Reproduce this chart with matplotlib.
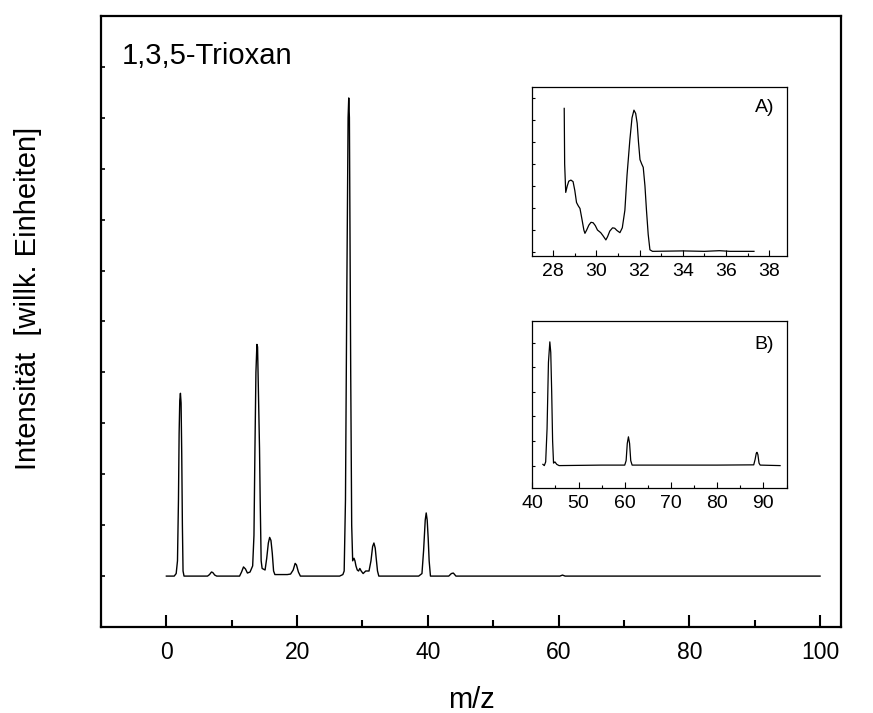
import matplotlib
matplotlib.use("Agg")
import matplotlib.pyplot as plt
from matplotlib.ticker import MultipleLocator, NullFormatter

plt.rcParams['font.family'] = ['Liberation Sans', 'DejaVu Sans']

# ------------------------------------------------------------
# Main spectrum (m/z, intensity in tick units)
# ------------------------------------------------------------
mz_main = [0.0, 1.2, 1.5, 1.7, 1.85, 1.95, 2.05, 2.15, 2.25, 2.35, 2.45, 2.55, 2.7,
           6.3, 6.6, 6.9, 7.1, 7.4, 7.7,
           11.2, 11.5, 11.8, 12.1, 12.4, 12.8, 13.2, 13.4, 13.55, 13.7, 13.85,
           13.95, 14.1, 14.25, 14.35, 14.5, 14.65,
           15.1, 15.35, 15.6, 15.8, 16.0, 16.2, 16.4, 16.6,
           18.5, 19.0, 19.4, 19.7, 19.9, 20.2, 20.5,
           26.5, 27.0, 27.2, 27.4, 27.6, 27.8, 27.9, 28.0, 28.1, 28.2, 28.35,
           28.5, 28.7, 28.85, 29.0, 29.2, 29.4, 29.6, 29.8, 30.1, 30.5, 31.0,
           31.3, 31.55, 31.75, 31.95, 32.1, 32.3, 32.5,
           38.6, 39.1, 39.35, 39.6, 39.75, 39.9, 40.05, 40.2, 40.4,
           43.2, 43.6, 43.9, 44.3, 60.2, 60.6, 61.0, 100.0]
int_main = [0.0, 0.0, 0.05, 0.3, 1.5, 2.8, 3.45, 3.59, 3.4, 2.4, 1.0, 0.1, 0.0,
            0.0, 0.03, 0.08, 0.07, 0.02, 0.0,
            0.0, 0.08, 0.18, 0.14, 0.06, 0.08, 0.2, 0.8, 2.5, 4.0, 4.55,
            4.5, 3.5, 2.5, 1.5, 0.3, 0.15,
            0.12, 0.35, 0.65, 0.76, 0.7, 0.45, 0.1, 0.03,
            0.03, 0.04, 0.12, 0.25, 0.22, 0.08, 0.0,
            0.0, 0.03, 0.1, 1.5, 5.5, 9.0, 9.39, 9.0, 6.5, 4.0, 1.0,
            0.3, 0.35, 0.3, 0.2, 0.12, 0.1, 0.15, 0.1, 0.05, 0.1, 0.1,
            0.3, 0.58, 0.65, 0.55, 0.35, 0.1, 0.0,
            0.0, 0.05, 0.5, 1.1, 1.24, 1.1, 0.75, 0.3, 0.0,
            0.0, 0.05, 0.06, 0.0, 0.0, 0.02, 0.0, 0.0]

# Inset A: zoom on m/z 28-38
mz_a = [28.51, 28.53, 28.58, 28.65, 28.72, 28.82, 28.92, 29.0, 29.08, 29.16,
        29.24, 29.33, 29.42, 29.47, 29.55, 29.65, 29.75, 29.85, 29.95, 30.05,
        30.2, 30.3, 30.44, 30.52, 30.62, 30.75, 30.85, 30.95, 31.09, 31.2,
        31.32, 31.42, 31.55, 31.65, 31.74, 31.82, 31.89, 31.95, 32.02, 32.1,
        32.17, 32.25, 32.32, 32.4, 32.48, 32.6, 34.0, 35.0, 35.7, 36.2, 37.3]
int_a = [6.53, 4.0, 2.71, 3.0, 3.22, 3.27, 3.2, 2.8, 2.25, 2.1,
         1.98, 1.5, 1.0, 0.85, 1.0, 1.22, 1.35, 1.33, 1.2, 1.0,
         0.88, 0.75, 0.55, 0.7, 0.95, 1.1, 1.08, 0.98, 0.88, 1.1,
         1.9, 3.5, 5.09, 6.1, 6.45, 6.3, 5.85, 5.0, 4.2, 4.0,
         3.85, 3.0, 1.9, 0.8, 0.1, 0.03, 0.05, 0.03, 0.06, 0.03, 0.03]

# Inset B: zoom on m/z 40-95
mz_b = [42.3, 42.6, 42.9, 43.2, 43.5, 43.8, 44.0, 44.2, 44.4, 44.6, 44.9, 45.3, 45.8,
        55.0, 60.0, 60.3, 60.55, 60.8, 61.05, 61.3, 61.6,
        80.0, 87.9, 88.2, 88.45, 88.6, 88.8, 89.05, 89.3, 93.6]
int_b = [0.05, 0.0, 0.15, 1.5, 4.2, 5.03, 4.6, 3.0, 1.0, 0.1, 0.15, 0.05, 0.0,
         0.02, 0.02, 0.2, 0.9, 1.17, 0.9, 0.2, 0.02,
         0.02, 0.03, 0.25, 0.5, 0.54, 0.45, 0.1, 0.02, 0.0]

fig = plt.figure(figsize=(8.73, 7.13), dpi=100)

# ---------------- main axes ----------------
ax = fig.add_axes([0.1157, 0.1206, 0.8476, 0.8570])
ax.plot(mz_main, int_main, color='black', linewidth=1.0, solid_joinstyle='round')
ax.set_xlim(-10, 103.2)
ax.set_ylim(-1, 11)
for sp in ax.spines.values():
    sp.set_linewidth(1.6)
ax.xaxis.set_major_locator(MultipleLocator(20))
ax.xaxis.set_minor_locator(MultipleLocator(10))
ax.yaxis.set_major_locator(MultipleLocator(1))
ax.yaxis.set_major_formatter(NullFormatter())
ax.tick_params(axis='x', which='major', direction='in', length=9, width=1.5,
               labelsize=16.5, pad=10)
ax.tick_params(axis='x', which='minor', direction='in', length=5, width=1.5)
ax.tick_params(axis='y', which='major', direction='in', length=3, width=1.2)
ax.set_xticks([0, 20, 40, 60, 80, 100])
ax.text(0.028, 0.935, '1,3,5-Trioxan', transform=ax.transAxes,
        fontsize=21, ha='left', va='center')

fig.text(471 / 873, 1 - 700 / 713, 'm/z', fontsize=21, ha='center', va='center')
fig.text(28 / 873, 1 - 298 / 713, 'Intensität  [willk. Einheiten]', fontsize=21,
         rotation=90, ha='center', va='center')

# ---------------- inset A ----------------
axa = fig.add_axes([0.6097, 0.641, 0.2918, 0.2366])
axa.plot(mz_a, int_a, color='black', linewidth=0.9, solid_joinstyle='round')
axa.set_xlim(27.03, 38.83)
axa.set_ylim(-0.18, 7.49)
axa.xaxis.set_major_locator(MultipleLocator(2))
axa.xaxis.set_minor_locator(MultipleLocator(1))
axa.yaxis.set_major_locator(MultipleLocator(1))
axa.yaxis.set_major_formatter(NullFormatter())
axa.tick_params(axis='x', which='major', direction='in', length=4, width=0.8,
                labelsize=14, pad=5)
axa.tick_params(axis='x', which='minor', direction='in', length=2.5, width=0.8)
axa.tick_params(axis='y', which='major', direction='in', length=2.5, width=0.8)
for sp in axa.spines.values():
    sp.set_linewidth(0.9)
axa.text(0.95, 0.88, 'A)', transform=axa.transAxes, fontsize=14,
         ha='right', va='center')

# ---------------- inset B ----------------
axb = fig.add_axes([0.6097, 0.3156, 0.2918, 0.2346])
axb.plot(mz_b, int_b, color='black', linewidth=0.9, solid_joinstyle='round')
axb.set_xlim(40, 95.1)
axb.set_ylim(-0.91, 5.89)
axb.xaxis.set_major_locator(MultipleLocator(10))
axb.xaxis.set_minor_locator(MultipleLocator(5))
axb.yaxis.set_major_locator(MultipleLocator(1))
axb.yaxis.set_major_formatter(NullFormatter())
axb.tick_params(axis='x', which='major', direction='in', length=4, width=0.8,
                labelsize=14, pad=5)
axb.tick_params(axis='x', which='minor', direction='in', length=2.5, width=0.8)
axb.tick_params(axis='y', which='major', direction='in', length=2.5, width=0.8)
for sp in axb.spines.values():
    sp.set_linewidth(0.9)
axb.text(0.95, 0.86, 'B)', transform=axb.transAxes, fontsize=14,
         ha='right', va='center')

fig.savefig('out.png', dpi=100)
